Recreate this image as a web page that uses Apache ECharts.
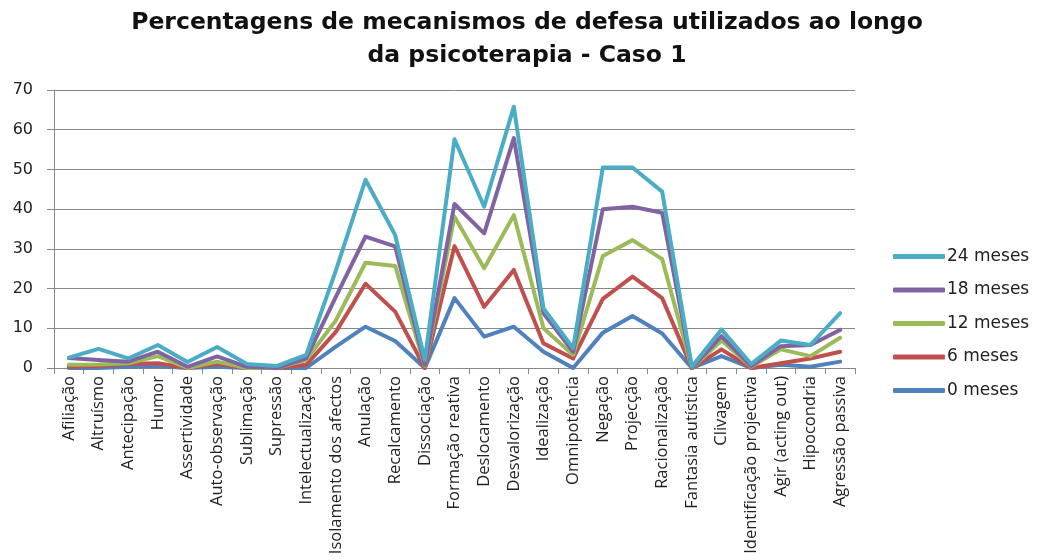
<!DOCTYPE html>
<html><head><meta charset="utf-8">
<script src="https://cdn.jsdelivr.net/npm/echarts@6/dist/echarts.min.js"></script>
<style>html,body{margin:0;padding:0;background:#fff}#c{width:1037px;height:560px}</style>
</head><body><div id="c"></div>
<script>
const categories = ['Afiliação','Altruísmo','Antecipação','Humor','Assertividade','Auto-observação','Sublimação','Supressão','Intelectualização','Isolamento dos afectos','Anulação','Recalcamento','Dissociação','Formação reativa','Deslocamento','Desvalorização','Idealização','Omnipotência','Negação','Projecção','Racionalização','Fantasia autística','Clivagem','Identificação projectiva','Agir (acting out)','Hipocondria','Agressão passiva'];
const m0  = [0,0,0.3,0.5,0,0.3,0,0,0,5.4,10.4,6.8,0,17.6,7.9,10.4,4.1,0,8.9,13.1,8.7,0,3,0,0.8,0.3,1.6];
const m6  = [0.3,0.5,1,1.2,0,1,0,0,0.8,9.1,21.2,14.2,0,30.7,15.4,24.7,6.2,2.4,17.4,23,17.6,0,4.7,0,1.2,2.4,4.1];
const m12 = [0.8,0.9,1.2,3,0,1.6,0,0,2,12,26.5,25.7,0.5,38.1,25.1,38.5,10,3.3,28.2,32.2,27.4,0,6.9,0.3,4.7,3,7.6];
const m18 = [2.5,2,1.6,4.1,0.3,2.9,0.3,0,2.4,17.9,33.1,30.6,0.8,41.3,33.9,57.9,13.8,4.1,40,40.6,39.1,0,8,0.5,5.5,5.8,9.6];
const m24 = [2.6,4.8,2.4,5.8,1.5,5.3,1,0.5,3.3,24.5,47.4,33.5,2,57.6,40.6,65.8,15,5,50.5,50.5,44.4,0.3,9.7,1,6.9,5.8,13.8];
const yTicks = {min:0, max:70, interval:10};
const seriesNames = ['0 meses','6 meses','12 meses','18 meses','24 meses'];
const seriesData = [m0,m6,m12,m18,m24];
const colors = ['#4F81BD','#C0504D','#9BBB59','#8064A2','#4BACC6'];

const chart = echarts.init(document.getElementById('c'), null, {renderer:'canvas'});
chart.setOption({
  animation:false,
  backgroundColor:'#fff',
  title:{
    text:'Percentagens de mecanismos de defesa utilizados ao longo\nda psicoterapia - Caso 1',
    left:522, top:1, textAlign:'center',
    textStyle:{fontFamily:'DejaVu Sans', fontWeight:'bold', fontSize:23.5, lineHeight:33, color:'#111'}
  },
  legend:{
    orient:'vertical', left:888, top:243, itemGap:16.5,
    data:['24 meses','18 meses','12 meses','6 meses','0 meses'],
    icon:'roundRect', itemWidth:52, itemHeight:5,
    textStyle:{fontFamily:'DejaVu Sans', fontSize:17, color:'#222', padding:[0,0,0,-3]}
  },
  grid:{left:54, right:182, top:90, bottom:192, containLabel:false},
  xAxis:{
    type:'category', data:categories, boundaryGap:true,
    axisLine:{lineStyle:{color:'#888', width:1}},
    axisTick:{show:true, length:6, lineStyle:{color:'#888'}},
    axisLabel:{rotate:90, interval:0, margin:8, fontFamily:'Open Sans', fontSize:16.5, color:'#222'}
  },
  yAxis:{
    type:'value', min:yTicks.min, max:yTicks.max, interval:yTicks.interval,
    axisLine:{show:true, lineStyle:{color:'#888'}},
    axisTick:{show:true, length:7, lineStyle:{color:'#888'}},
    axisLabel:{fontFamily:'DejaVu Sans', fontSize:16, color:'#222', margin:21},
    splitLine:{lineStyle:{color:'#888', width:1}}
  },
  series: seriesNames.map((n,i)=>({
    name:n, type:'line', data:seriesData[i], showSymbol:false, symbol:'none',
    lineStyle:{width:4, color:colors[i], join:'round', cap:'round'},
    itemStyle:{color:colors[i]}
  }))
});
</script></body></html>
